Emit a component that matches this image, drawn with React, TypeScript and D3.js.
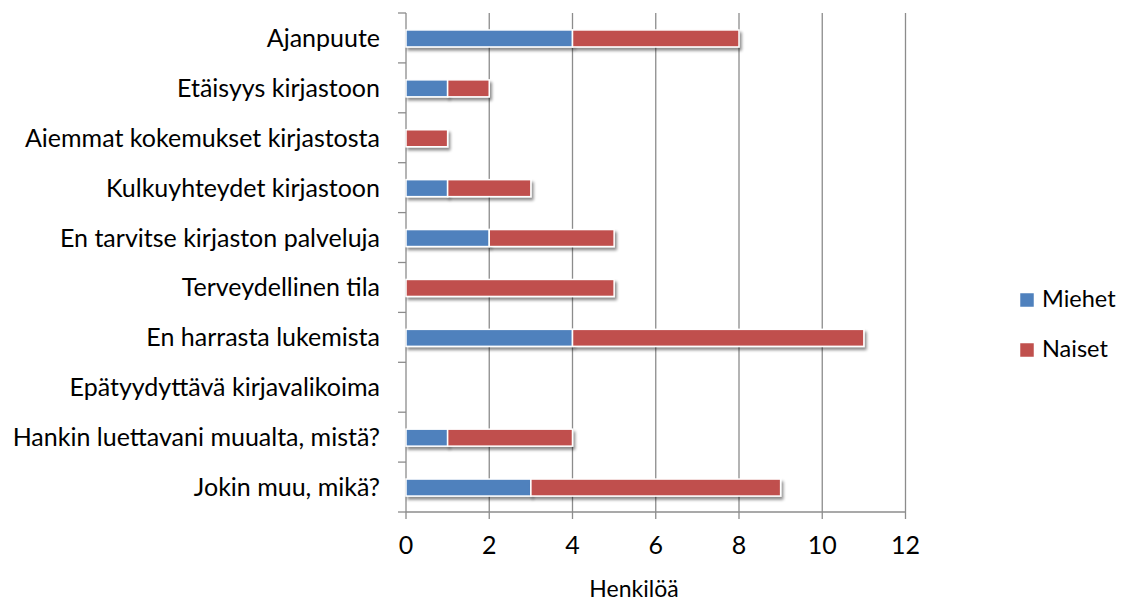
import React from "react";
import * as d3 from "d3";

const categories = [
  "Ajanpuute",
  "Etäisyys kirjastoon",
  "Aiemmat kokemukset kirjastosta",
  "Kulkuyhteydet kirjastoon",
  "En tarvitse kirjaston palveluja",
  "Terveydellinen tila",
  "En harrasta lukemista",
  "Epätyydyttävä kirjavalikoima",
  "Hankin luettavani muualta, mistä?",
  "Jokin muu, mikä?",
];
const miehet = [4, 1, 0, 1, 2, 0, 4, 0, 1, 3];
const naiset = [4, 1, 1, 2, 3, 5, 7, 0, 3, 6];
const xTicks = [0, 2, 4, 6, 8, 10, 12];
const seriesNames = ["Miehet", "Naiset"];
const colors = ["#4F81BD", "#C0504D"];
const axisTitle = "Henkilöä";

const W = 1130;
const H = 601;
const left = 406;
const right = 905.5;
const top = 13;
const bottom = 512;
const FONT = "Lato, 'Noto Sans', sans-serif";

export default function App() {
  const x = d3.scaleLinear().domain([0, 12]).range([left, right]);
  const y = d3.scaleBand<string>().domain(categories).range([top, bottom]);
  const barH = 17;
  const grid = "#8c8c8c";

  const stacked = d3.stack<number>().keys(["0", "1"]).value((i, k) =>
    k === "0" ? miehet[i] : naiset[i]
  )(categories.map((_, i) => i));

  return (
    <svg
      width={W}
      height={H}
      style={{ position: "absolute", left: 0, top: 0, background: "#fff" }}
    >
      <defs>
        <filter id="sh" x="-10%" y="-50%" width="130%" height="250%">
          <feGaussianBlur in="SourceAlpha" stdDeviation="1.8" />
          <feOffset dx="1.5" dy="2.5" result="b" />
          <feComponentTransfer>
            <feFuncA type="linear" slope="0.45" />
          </feComponentTransfer>
          <feMerge>
            <feMergeNode />
            <feMergeNode in="SourceGraphic" />
          </feMerge>
        </filter>
      </defs>
      {xTicks.map((t) => (
        <line
          key={"g" + t}
          x1={x(t)}
          x2={x(t)}
          y1={top}
          y2={bottom + 7}
          stroke={grid}
          strokeWidth={1.3}
        />
      ))}
      <line x1={left} x2={right} y1={bottom} y2={bottom} stroke={grid} strokeWidth={1.3} />
      {d3.range(categories.length + 1).map((i) => {
        const yy = top + i * y.step();
        return (
          <line key={"yt" + i} x1={left - 8} x2={left} y1={yy} y2={yy} stroke={grid} strokeWidth={1.3} />
        );
      })}
      {stacked.map((s, si) =>
        s.map((d, i) => {
          const w = x(d[1]) - x(d[0]);
          if (w <= 0) return null;
          const cy = (y(categories[i]) as number) + y.bandwidth() / 2 + 0.5;
          return (
            <rect
              key={si + "-" + i}
              x={x(d[0])}
              y={cy - barH / 2}
              width={w}
              height={barH}
              fill={colors[si]}
              stroke="#fff"
              strokeWidth={1.5}
              filter="url(#sh)"
            />
          );
        })
      )}
      {categories.map((c) => (
        <text
          key={c}
          x={380}
          y={(y(c) as number) + y.bandwidth() / 2 + 9}
          textAnchor="end"
          fontFamily={FONT}
          fontSize={25}
          fill="#000"
        >
          {c}
        </text>
      ))}
      {xTicks.map((t) => (
        <text
          key={"xl" + t}
          x={x(t)}
          y={554}
          textAnchor="middle"
          fontFamily={FONT}
          fontSize={25}
          fill="#000"
        >
          {t}
        </text>
      ))}
      <text x={634} y={597} textAnchor="middle" fontFamily={FONT} fontSize={23} fill="#000">
        {axisTitle}
      </text>
      {seriesNames.map((n, i) => (
        <g key={n}>
          <rect
            x={1020}
            y={293 + i * 50}
            width={14}
            height={14}
            fill={colors[i]}
            stroke="#fff"
            strokeWidth={0.5}
          />
          <text x={1042} y={307 + i * 50} fontFamily={FONT} fontSize={23.5} fill="#000">
            {n}
          </text>
        </g>
      ))}
    </svg>
  );
}
